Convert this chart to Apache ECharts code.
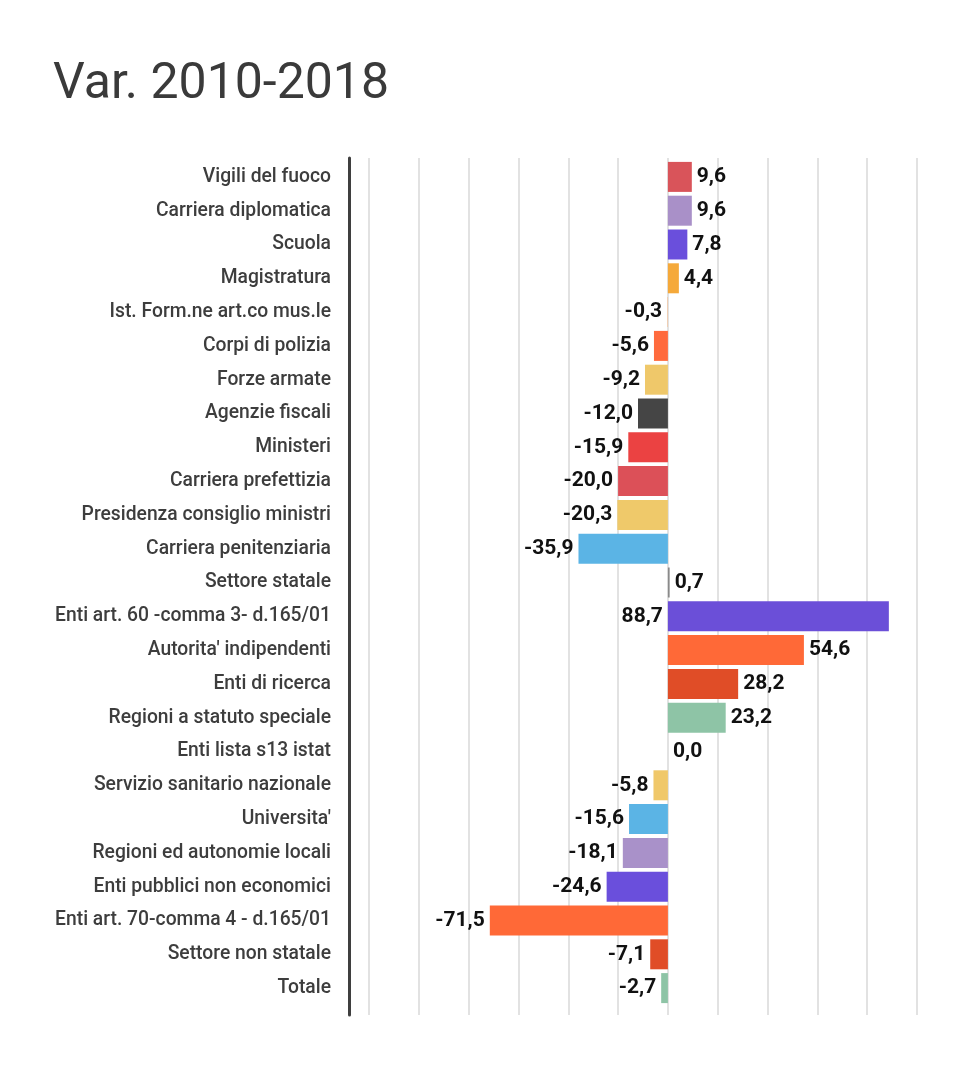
<!DOCTYPE html>
<html>
<head>
<meta charset="utf-8">
<script src="https://cdn.jsdelivr.net/npm/echarts@6/dist/echarts.min.js"></script>
<style>
html,body{margin:0;padding:0;background:#fff;}
#chart{width:970px;height:1071px;}
</style>
</head>
<body>
<div id="chart"></div>
<script>
const categories = [
  "Vigili del fuoco","Carriera diplomatica","Scuola","Magistratura","Ist. Form.ne art.co mus.le",
  "Corpi di polizia","Forze armate","Agenzie fiscali","Ministeri","Carriera prefettizia",
  "Presidenza consiglio ministri","Carriera penitenziaria","Settore statale",
  "Enti art. 60 -comma 3- d.165/01","Autorita' indipendenti","Enti di ricerca",
  "Regioni a statuto speciale","Enti lista s13 istat","Servizio sanitario nazionale",
  "Universita'","Regioni ed autonomie locali","Enti pubblici non economici",
  "Enti art. 70-comma 4 - d.165/01","Settore non statale","Totale"
];
const values = [9.6,9.6,7.8,4.4,-0.3,-5.6,-9.2,-12.0,-15.9,-20.0,-20.3,-35.9,0.7,88.7,54.6,28.2,23.2,0.0,-5.8,-15.6,-18.1,-24.6,-71.5,-7.1,-2.7];
const colors = ["#d9545a","#a990c8","#6a4fdc","#f5a93a","#f3c7a4","#ff6a3d","#efc86a","#454545","#eb4242","#dc5058","#efc96a","#5bb4e5","#8a8a8a","#6b4fd8","#ff6937","#e04d27","#8ec4a6","#8ec4a6","#f0c86a","#5bb4e5","#a991c9","#6a4fdc","#ff6937","#e04d27","#8ec4a6"];
const axisMin = -120, axisMax = 100, axisStep = 20;

const chart = echarts.init(document.getElementById('chart'));
const fmt = v => v.toFixed(1).replace('.', ',');
const data = values.map((v, i) => ({
  value: v,
  itemStyle: { color: colors[i] },
  label: { position: (v < 0 || v > 80) ? 'left' : 'right' }
}));

chart.setOption({
  animation: false,
  backgroundColor: '#fff',
  title: {
    text: 'Var. 2010-2018',
    left: 48, top: 55,
    textStyle: { fontFamily: 'Roboto', fontSize: 50, fontWeight: 'normal', color: '#3a3a3a' }
  },
  grid: [
    { left: 369, right: 53, top: 160, bottom: 66 },
    { left: 369, right: 53, top: 158, bottom: 56 }
  ],
  xAxis: [
    { gridIndex: 0, type: 'value', min: axisMin, max: axisMax, interval: axisStep, show: false, splitLine: { show: false } },
    { gridIndex: 1, type: 'value', min: axisMin, max: axisMax, interval: axisStep,
      axisLine: { show: false }, axisTick: { show: false }, axisLabel: { show: false },
      splitLine: { show: true, lineStyle: { color: '#d8d8d8', width: 1.5 } } }
  ],
  yAxis: [
    { gridIndex: 0, type: 'category', data: categories, inverse: true, offset: 20,
      axisLine: { show: false }, axisTick: { show: false },
      axisLabel: { margin: 18, fontFamily: 'Roboto', fontSize: 19.3, fontWeight: 500, color: '#3d3d3d' } },
    { gridIndex: 1, type: 'value', offset: 20, min: 0, max: 1,
      axisLine: { show: true, onZero: false, lineStyle: { color: '#3f3f3f', width: 3 } },
      axisTick: { show: false }, axisLabel: { show: false }, splitLine: { show: false } }
  ],
  series: [{
    type: 'bar',
    xAxisIndex: 0, yAxisIndex: 0,
    data: data,
    barWidth: 30,
    label: {
      show: true, distance: 5,
      fontFamily: 'Roboto', fontSize: 21, fontWeight: 'bold', color: '#111',
      formatter: p => fmt(p.value)
    }
  }]
});
</script>
</body>
</html>
